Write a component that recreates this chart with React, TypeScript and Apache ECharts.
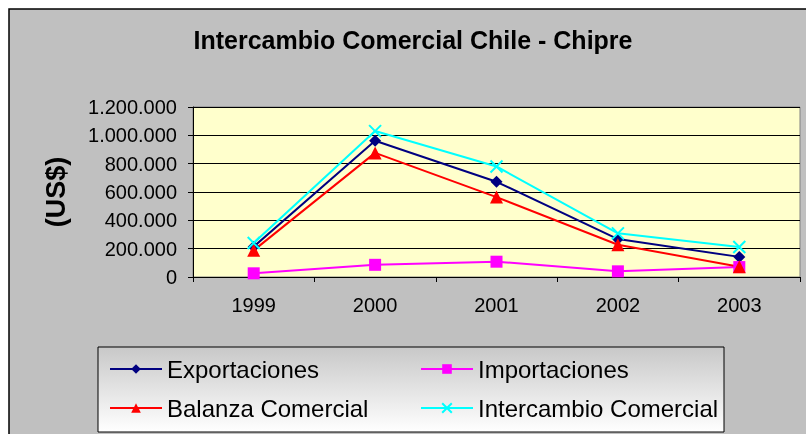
import React, { useEffect, useRef } from "react";
import * as echarts from "echarts";

const years = ["1999", "2000", "2001", "2002", "2003"];
const exportaciones = [214000, 962000, 672000, 268000, 142000];
const importaciones = [26000, 86000, 108000, 40000, 70000];
const balanza = [188000, 876000, 564000, 228000, 72000];
const intercambio = [240000, 1030000, 780000, 308000, 212000];
const yTicks = [0, 200000, 400000, 600000, 800000, 1000000, 1200000];

const FONT = "'Liberation Sans', Arial, sans-serif";

function fmt(v: number) {
  return String(v).replace(/\B(?=(\d{3})+(?!\d))/g, ".");
}

export default function App() {
  const ref = useRef<HTMLDivElement>(null);
  useEffect(() => {
    if (!ref.current) return;
    const chart = echarts.init(ref.current, undefined, { renderer: "svg" });
    const legendCommon = {
      itemWidth: 52,
      itemHeight: 12,
      itemGap: 10,
      padding: 0,
      textStyle: { fontSize: 24, color: "#000", fontFamily: FONT },
      z: 10,
    };
    const mk = (name: string, data: number[], color: string, symbol: string, size: number, extra: any = {}) => ({
      name,
      type: "line",
      data,
      symbol,
      symbolSize: size,
      lineStyle: { color, width: 2 },
      itemStyle: { color, ...extra },
      emphasis: { disabled: true },
    });
    chart.setOption({
      animation: false,
      backgroundColor: "transparent",
      textStyle: { fontFamily: FONT },
      graphic: [
        {
          type: "rect",
          shape: { x: 9, y: 9, width: 820, height: 450 },
          style: { fill: "#C0C0C0", stroke: "#000", lineWidth: 1.5 },
          z: -10,
        },
        {
          type: "rect",
          shape: { x: 98, y: 347, width: 626, height: 85 },
          style: {
            fill: new echarts.graphic.LinearGradient(0, 0, 0, 1, [
              { offset: 0, color: "#C8C8C8" },
              { offset: 1, color: "#FFFFFF" },
            ]),
            stroke: "#000",
            lineWidth: 1,
          },
          z: -5,
        },
      ],
      title: {
        text: "Intercambio Comercial Chile - Chipre",
        left: 413,
        top: 27,
        textAlign: "center",
        padding: 0,
        textStyle: { fontSize: 25, fontWeight: "bold", color: "#000", fontFamily: FONT },
      },
      grid: {
        left: 193,
        top: 107,
        width: 607,
        height: 170,
        show: true,
        backgroundColor: "#FFFFCC",
        borderColor: "#808080",
        borderWidth: 1,
      },
      xAxis: {
        type: "category",
        data: years,
        boundaryGap: true,
        axisLine: { lineStyle: { color: "#000", width: 1 } },
        axisTick: { show: true, length: 5, inside: false, lineStyle: { color: "#000" } },
        axisLabel: { fontSize: 20, color: "#000", margin: 18, fontFamily: FONT },
      },
      yAxis: {
        type: "value",
        min: 0,
        max: 1200000,
        interval: 200000,
        name: "(US$)",
        nameLocation: "middle",
        nameRotate: 90,
        nameGap: 124,
        nameTextStyle: { fontSize: 27, fontWeight: "bold", color: "#000", fontFamily: FONT },
        axisLine: { show: true, lineStyle: { color: "#000", width: 1 } },
        axisTick: { show: true, length: 5, lineStyle: { color: "#000" } },
        splitLine: { show: true, lineStyle: { color: "#000", width: 1 } },
        axisLabel: {
          fontSize: 20,
          color: "#000",
          margin: 16,
          fontFamily: FONT,
          formatter: (v: number) => (yTicks.includes(v) ? fmt(v) : ""),
        },
      },
      legend: [
        { ...legendCommon, data: ["Exportaciones"], left: 109, top: 357 },
        { ...legendCommon, data: ["Importaciones"], left: 420, top: 357 },
        { ...legendCommon, data: ["Balanza Comercial"], left: 109, top: 396 },
        { ...legendCommon, data: ["Intercambio Comercial"], left: 420, top: 396 },
      ],
      series: [
        mk("Exportaciones", exportaciones, "#000080", "diamond", 12),
        mk("Importaciones", importaciones, "#FF00FF", "rect", 12),
        mk("Balanza Comercial", balanza, "#FF0000", "triangle", 13),
        mk("Intercambio Comercial", intercambio, "#00FFFF", "path://M0,0L10,10M10,0L0,10", 12, {
          borderColor: "#00FFFF",
          borderWidth: 2,
        }),
      ],
    });
    return () => chart.dispose();
  }, []);
  return (
    <div
      ref={ref}
      style={{ position: "fixed", left: 0, top: 0, width: 806, height: 434 }}
    />
  );
}
